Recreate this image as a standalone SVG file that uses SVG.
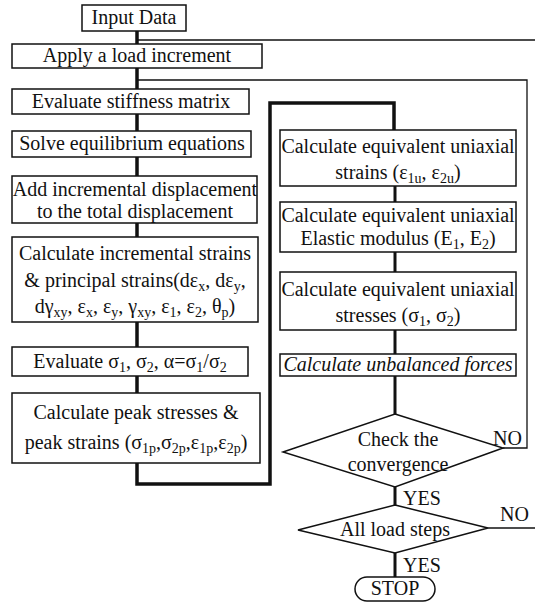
<svg xmlns="http://www.w3.org/2000/svg" width="535" height="606" viewBox="0 0 535 606">
<style>
text{font-family:"Liberation Serif","Times New Roman",serif;font-size:20px;fill:#111;text-anchor:middle}
.box{fill:#fff;stroke:#111;stroke-width:1.5}
.thick{fill:none;stroke:#111;stroke-width:3.5}
.mid{fill:none;stroke:#111;stroke-width:3}
.thin{fill:none;stroke:#111;stroke-width:1.3}
.s{font-size:14px;baseline-shift:-4px}
.lbl{text-anchor:start}
</style>
<rect width="535" height="606" fill="#fff"/>
<g id="connectors">
<line class="thick" x1="137" y1="31" x2="137" y2="44"/>
<line class="thick" x1="137" y1="68" x2="137" y2="89"/>
<line class="thick" x1="137" y1="114" x2="137" y2="131"/>
<line class="thick" x1="137" y1="157" x2="137" y2="176"/>
<line class="thick" x1="137" y1="223" x2="137" y2="237"/>
<line class="thick" x1="137" y1="322" x2="137" y2="347"/>
<line class="thick" x1="137" y1="376" x2="137" y2="393"/>
<polyline class="thick" points="137,463 137,484 270,484 270,103 394,103 394,130"/>
<line class="mid" x1="395" y1="186" x2="395" y2="202"/>
<line class="mid" x1="395" y1="252" x2="395" y2="272"/>
<line class="mid" x1="395" y1="330" x2="395" y2="354"/>
<line class="mid" x1="395" y1="376" x2="395" y2="414"/>
<line class="mid" x1="395" y1="487" x2="395" y2="505"/>
<line class="mid" x1="395" y1="553" x2="395" y2="577"/>
<polyline class="thin" points="137,80 527,80 527,448 503,448"/>
<line class="thin" x1="137" y1="40" x2="535" y2="40"/>
<line class="thin" x1="488" y1="528" x2="535" y2="528"/>
</g>
<g id="input"><rect class="box" x="82" y="5" width="104" height="26"/><text x="134" y="24">Input Data</text></g>
<g id="apply"><rect class="box" x="12" y="44" width="250" height="24"/><text x="137" y="62">Apply a load increment</text></g>
<g id="stiffness"><rect class="box" x="12" y="89" width="237" height="25"/><text x="131" y="108">Evaluate stiffness matrix</text></g>
<g id="solve"><rect class="box" x="12" y="131" width="239" height="26"/><text x="132" y="150">Solve equilibrium equations</text></g>
<g id="add"><rect class="box" x="12" y="176" width="245" height="47"/><text x="135" y="196">Add incremental displacement</text><text x="135" y="218">to the total displacement</text></g>
<g id="strains"><rect class="box" x="12" y="237" width="246" height="85"/>
<text x="135" y="260">Calculate incremental strains</text>
<text x="135" y="287">&amp; principal strains(dε<tspan class="s">x</tspan>, dε<tspan class="s">y</tspan>,</text>
<text x="135" y="313">dγ<tspan class="s">xy</tspan>, ε<tspan class="s">x</tspan>, ε<tspan class="s">y</tspan>, γ<tspan class="s">xy</tspan>, ε<tspan class="s">1</tspan>, ε<tspan class="s">2</tspan>, θ<tspan class="s">p</tspan>)</text></g>
<g id="evalsigma"><rect class="box" x="12" y="347" width="236" height="29"/><text x="130" y="368">Evaluate  σ<tspan class="s">1</tspan>, σ<tspan class="s">2</tspan>, α=σ<tspan class="s">1</tspan>/σ<tspan class="s">2</tspan></text></g>
<g id="peak"><rect class="box" x="12" y="393" width="248" height="70"/><text x="136" y="419">Calculate peak stresses &amp;</text><text x="136" y="449">peak strains (σ<tspan class="s">1p</tspan>,σ<tspan class="s">2p</tspan>,ε<tspan class="s">1p</tspan>,ε<tspan class="s">2p</tspan>)</text></g>
<g id="uniStrains"><rect class="box" x="280" y="130" width="236" height="56"/><text x="398" y="153">Calculate equivalent uniaxial</text><text x="398" y="179">strains (ε<tspan class="s">1u</tspan>, ε<tspan class="s">2u</tspan>)</text></g>
<g id="uniModulus"><rect class="box" x="280" y="202" width="236" height="50"/><text x="398" y="222">Calculate equivalent uniaxial</text><text x="398" y="245">Elastic modulus (E<tspan class="s">1</tspan>, E<tspan class="s">2</tspan>)</text></g>
<g id="uniStresses"><rect class="box" x="280" y="272" width="236" height="58"/><text x="398" y="296">Calculate equivalent uniaxial</text><text x="398" y="322">stresses (σ<tspan class="s">1</tspan>, σ<tspan class="s">2</tspan>)</text></g>
<g id="unbalanced"><rect class="box" x="280" y="354" width="236" height="22"/><text x="398" y="371" font-style="italic">Calculate unbalanced forces</text></g>
<g id="convergence"><polygon class="box" points="395,414 503,448 395,487 283,452"/><text x="398" y="446">Check the</text><text x="398" y="471">convergence</text></g>
<g id="loadsteps"><polygon class="box" points="395,505 488,528 395,553 298,530"/><text x="395" y="536">All load steps</text></g>
<g id="stop"><rect class="box" x="355" y="577" width="80" height="24" rx="12"/><text x="395" y="595">STOP</text></g>
<g id="labels">
<text class="lbl" x="493" y="445">NO</text>
<text class="lbl" x="403" y="505">YES</text>
<text class="lbl" x="500" y="521">NO</text>
<text class="lbl" x="403" y="572">YES</text>
</g>
</svg>
